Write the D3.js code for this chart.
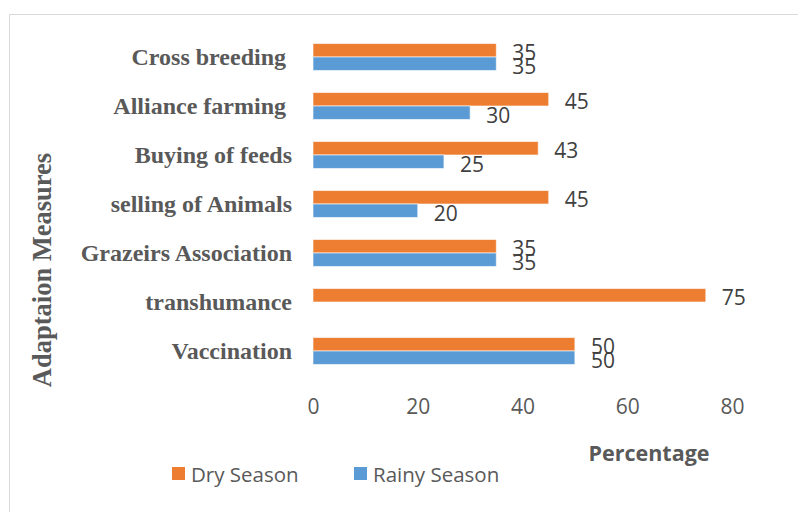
<!DOCTYPE html>
<html>
<head>
<meta charset="utf-8">
<script src="https://cdn.jsdelivr.net/npm/d3@7"></script>
<style>
  body { margin: 0; background: #fff; }
  svg { display: block; }
  .cat text { white-space: pre; }
</style>
</head>
<body>
<div class="chart"></div>
<script>
// categories from top to bottom, trailing spaces as in the original labels
var categories = ["Cross breeding ", "Alliance farming ", "Buying of feeds", "selling of Animals",
  "Grazeirs Association", "transhumance", "Vaccination"];
var dryValues = [35, 45, 43, 45, 35, 75, 50];
var rainyValues = [35, 30, 25, 20, 35, null, 50];
var seriesNames = ["Dry Season", "Rainy Season"];
var seriesColors = ["#ED7D31", "#5B9BD5"];
var xTicks = [0, 20, 40, 60, 80];

var width = 798, height = 512;

var svg = d3.select(".chart")
  .append("svg")
  .attr("width", width)
  .attr("height", height);

// frame (only top and left edges show)
svg.append("path")
  .attr("d", "M9.5,512V14.5H798")
  .attr("fill", "none")
  .attr("stroke", "#d9d9d9")
  .attr("stroke-width", 1);

// scales
var x = d3.scaleLinear()
  .domain([0, 80])
  .range([313, 732]);

var y = d3.scaleBand()
  .domain(categories)
  .range([32.5, 375.5])
  .paddingInner(0.45)
  .paddingOuter(0.225);

var ySub = d3.scaleBand()
  .domain(seriesNames)
  .range([0, y.bandwidth()]);

var rows = categories.map(function (c, i) {
  return { cat: c, values: [
    { name: seriesNames[0], value: dryValues[i], color: seriesColors[0] },
    { name: seriesNames[1], value: rainyValues[i], color: seriesColors[1] }
  ] };
});

// bars
var groups = svg.append("g").selectAll("g")
  .data(rows)
  .enter().append("g")
  .attr("transform", function (d) { return "translate(0," + y(d.cat) + ")"; });

groups.selectAll("rect")
  .data(function (d) { return d.values.filter(function (v) { return v.value != null; }); })
  .enter().append("rect")
  .attr("x", x(0))
  .attr("y", function (d) { return ySub(d.name); })
  .attr("width", function (d) { return x(d.value) - x(0); })
  .attr("height", ySub.bandwidth())
  .attr("fill", function (d) { return d.color; })
  .attr("stroke", "rgba(255,255,255,0.6)")
  .attr("stroke-width", 1);

// data labels
groups.selectAll("text")
  .data(function (d) { return d.values.filter(function (v) { return v.value != null; }); })
  .enter().append("text")
  .attr("x", function (d) { return x(d.value) + 16; })
  .attr("y", function (d) { return ySub(d.name) + ySub.bandwidth() / 2 + 2; })
  .attr("dominant-baseline", "central")
  .attr("font-family", "'Open Sans', sans-serif")
  .attr("font-size", 21)
  .attr("fill", "#404040")
  .text(function (d) { return d.value; });

// x axis (labels only)
var xAxis = svg.append("g")
  .attr("transform", "translate(0,395)")
  .call(d3.axisBottom(x).tickValues(xTicks).tickSize(0).tickPadding(4));
xAxis.select(".domain").remove();
xAxis.selectAll("text")
  .attr("font-family", "'Open Sans', sans-serif")
  .attr("font-size", 21)
  .attr("fill", "#595959");

// y axis (category labels)
var yAxis = svg.append("g")
  .attr("class", "cat")
  .attr("transform", "translate(313,0)")
  .call(d3.axisLeft(y).tickSize(0).tickPadding(21));
yAxis.select(".domain").remove();
yAxis.selectAll("text")
  .attr("font-family", "'Liberation Serif', 'Times New Roman', serif")
  .attr("font-weight", "bold")
  .attr("font-size", 24)
  .attr("fill", "#595959");

// axis titles
svg.append("text")
  .attr("transform", "translate(42,270) rotate(-90)")
  .attr("text-anchor", "middle")
  .attr("dominant-baseline", "central")
  .attr("font-family", "'Liberation Serif', 'Times New Roman', serif")
  .attr("font-weight", "bold")
  .attr("font-size", 26.5)
  .attr("fill", "#595959")
  .text("Adaptaion Measures");

svg.append("text")
  .attr("x", 649)
  .attr("y", 452)
  .attr("text-anchor", "middle")
  .attr("dominant-baseline", "central")
  .attr("font-family", "'Open Sans', sans-serif")
  .attr("font-weight", "bold")
  .attr("font-size", 21.5)
  .attr("fill", "#595959")
  .text("Percentage");

// legend
var legendX = [172, 354];
var legend = svg.append("g").selectAll("g")
  .data(seriesNames)
  .enter().append("g")
  .attr("transform", function (d, i) { return "translate(" + legendX[i] + ",467)"; });
legend.append("rect")
  .attr("width", 13)
  .attr("height", 13)
  .attr("fill", function (d, i) { return seriesColors[i]; });
legend.append("text")
  .attr("x", 19)
  .attr("y", 7)
  .attr("dominant-baseline", "central")
  .attr("font-family", "'Open Sans', sans-serif")
  .attr("font-size", 20.5)
  .attr("fill", "#595959")
  .text(function (d) { return d; });
</script>
</body>
</html>
